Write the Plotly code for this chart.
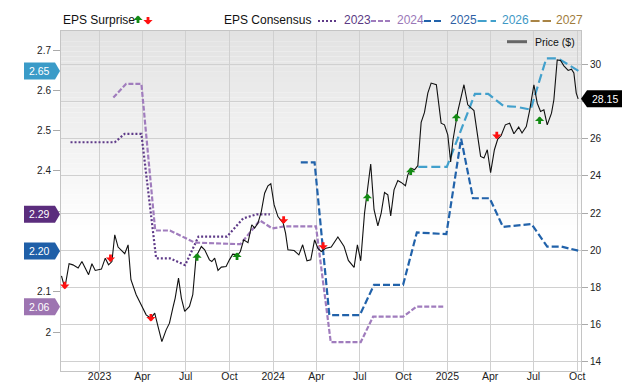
import plotly.graph_objects as go

# ---------------- data ----------------
eps2023_dates = ["2022-11-01", "2023-02-02", "2023-02-23", "2023-03-30", "2023-04-30", "2023-05-29",
                 "2023-06-30", "2023-07-28", "2023-09-26", "2023-10-30", "2023-11-27", "2023-12-25"]
eps2023_vals = [2.471, 2.471, 2.492, 2.492, 2.183, 2.183, 2.166, 2.237, 2.237, 2.282, 2.292, 2.292]

eps2024_dates = ["2023-01-30", "2023-02-26", "2023-03-30", "2023-04-28", "2023-05-29", "2023-07-20",
                 "2023-10-24", "2023-12-04", "2023-12-30", "2024-01-24", "2024-03-31", "2024-05-01",
                 "2024-07-03", "2024-07-29", "2024-09-30", "2024-10-28", "2024-12-26"]
eps2024_vals = [2.582, 2.616, 2.616, 2.252, 2.252, 2.222, 2.218, 2.277, 2.257, 2.262, 2.262, 1.975,
                1.975, 2.038, 2.038, 2.063, 2.063]

eps2025_dates = ["2024-02-28", "2024-03-28", "2024-04-28", "2024-07-01", "2024-07-31", "2024-09-30",
                 "2024-10-29", "2024-12-30", "2025-01-30", "2025-02-24", "2025-03-31", "2025-04-28",
                 "2025-06-27", "2025-07-30", "2025-08-29", "2025-10-06"]
eps2025_vals = [2.421, 2.421, 2.042, 2.042, 2.117, 2.117, 2.247, 2.243, 2.480, 2.332, 2.332, 2.261,
                2.268, 2.212, 2.212, 2.201]

eps2026_dates = ["2024-11-01", "2024-12-31", "2025-02-28", "2025-03-28", "2025-04-29", "2025-05-27",
                 "2025-06-25", "2025-07-28", "2025-08-22", "2025-10-04"]
eps2026_vals = [2.410, 2.410, 2.591, 2.591, 2.561, 2.559, 2.552, 2.679, 2.679, 2.648]

eps2027_dates = []
eps2027_vals = []

price_dates = [
    "2022-10-13", "2022-10-20", "2022-10-29", "2022-11-06", "2022-11-17", "2022-11-25", "2022-12-09",
    "2022-12-16", "2022-12-23", "2023-01-05", "2023-01-13", "2023-01-20", "2023-01-27", "2023-02-02",
    "2023-02-09", "2023-02-23", "2023-03-02", "2023-03-08", "2023-03-19", "2023-03-29", "2023-04-09",
    "2023-04-19", "2023-04-27", "2023-05-04", "2023-05-12", "2023-05-21", "2023-05-28", "2023-06-04",
    "2023-06-09", "2023-06-16", "2023-06-22", "2023-06-29", "2023-07-09", "2023-07-16", "2023-07-19",
    "2023-07-23", "2023-08-03", "2023-08-10", "2023-08-20", "2023-08-25", "2023-08-31", "2023-09-07",
    "2023-09-14", "2023-09-24", "2023-10-01", "2023-10-08", "2023-10-19", "2023-10-24", "2023-10-31",
    "2023-11-09", "2023-11-17", "2023-11-23", "2023-11-30", "2023-12-07", "2023-12-14", "2023-12-21",
    "2023-12-27", "2024-01-03", "2024-01-11", "2024-01-22", "2024-01-27", "2024-02-01", "2024-02-14",
    "2024-02-24", "2024-03-03", "2024-03-12", "2024-03-20", "2024-03-28", "2024-04-04", "2024-04-11",
    "2024-04-21", "2024-05-02", "2024-05-16", "2024-05-29", "2024-06-07", "2024-06-19", "2024-06-26",
    "2024-07-03", "2024-07-11", "2024-07-24", "2024-07-31", "2024-08-08", "2024-08-15", "2024-08-22",
    "2024-08-29", "2024-09-04", "2024-09-11", "2024-09-19", "2024-09-26", "2024-10-05", "2024-10-10",
    "2024-10-17", "2024-10-24", "2024-10-31", "2024-11-07", "2024-11-14", "2024-11-21", "2024-11-28",
    "2024-12-09", "2024-12-19", "2024-12-26", "2025-01-02", "2025-01-08", "2025-01-13", "2025-01-23",
    "2025-02-05", "2025-02-13", "2025-02-26", "2025-03-12", "2025-03-19", "2025-03-26", "2025-04-02",
    "2025-04-10", "2025-04-17", "2025-04-24", "2025-05-03", "2025-05-12", "2025-05-21", "2025-05-31",
    "2025-06-07", "2025-06-16", "2025-06-23", "2025-07-02", "2025-07-09", "2025-07-16", "2025-07-23",
    "2025-07-30", "2025-08-08", "2025-08-13", "2025-08-20", "2025-08-27", "2025-09-03", "2025-09-12",
    "2025-09-19", "2025-09-24", "2025-09-29", "2025-10-03"]
price_vals = [
    18.62, 17.96, 19.27, 19.21, 19.04, 19.39, 18.68,
    19.27, 18.91, 18.98, 19.57, 19.21, 19.39, 20.83,
    20.17, 19.81, 20.29, 18.41, 17.60, 17.06, 16.52,
    16.34, 16.61, 15.89, 15.08, 15.71, 16.07, 16.88,
    17.42, 18.50, 17.42, 16.70, 16.97, 17.60, 18.58,
    19.66, 20.20, 20.02, 19.48, 19.39, 19.57, 18.91,
    19.09, 19.12, 19.48, 19.79, 19.75, 19.93, 20.56,
    20.41, 21.37, 21.19, 21.46, 22.08, 23.07, 23.47,
    23.58, 22.44, 21.81, 21.46, 20.92, 20.02, 19.98,
    19.75, 20.29, 19.43, 19.48, 20.56, 20.10, 19.93,
    20.11, 20.17, 20.71, 20.20, 19.45, 19.07, 20.29,
    19.43, 22.00, 24.64, 22.18, 21.31, 22.00, 23.11,
    22.98, 21.85, 23.25, 23.75, 23.65, 23.47, 24.06,
    24.42, 24.33, 24.55, 26.88, 27.42, 28.46, 29.00,
    28.91, 26.84, 26.75, 26.21, 24.75, 25.95, 27.47,
    28.91, 27.83, 27.52, 25.05, 24.96, 25.41, 24.18,
    25.41, 25.98, 26.16, 26.75, 26.84, 26.27, 26.63,
    26.31, 26.66, 27.52, 28.91, 27.92, 27.47, 27.56,
    26.75, 27.38, 28.10, 30.25, 30.22, 29.93, 29.68,
    29.75, 29.54, 28.46, 28.15]

beat_dates = ["2023-07-25", "2023-10-17", "2024-07-17", "2024-10-16", "2025-01-20", "2025-07-14"]
beat_prices = [19.84, 19.88, 23.04, 24.45, 27.35, 27.20]
miss_dates = ["2022-10-20", "2023-01-24", "2023-04-19", "2024-01-23", "2024-04-15", "2025-04-15"]
miss_prices = [17.90, 19.36, 16.16, 21.42, 20.02, 25.98]

x_tick_dates = ["2023-01-01", "2023-04-01", "2023-07-01", "2023-10-01", "2024-01-01", "2024-04-01",
                "2024-07-01", "2024-10-01", "2025-01-01", "2025-04-01", "2025-07-01", "2025-10-01"]
x_tick_text = ["2023", "Apr", "Jul", "Oct", "2024", "Apr", "Jul", "Oct", "2025", "Apr", "Jul", "Oct"]
left_tick_vals = [2.0, 2.1, 2.2, 2.3, 2.4, 2.5, 2.6, 2.7]
left_tick_text = ["2", "2.1", "", "", "2.4", "2.5", "2.6", "2.7"]
right_tick_vals = [14, 16, 18, 20, 22, 24, 26, 28, 30]
right_tick_text = ["14", "16", "18", "20", "22", "24", "26", "", "30"]

# ---------------- style ----------------
W, H = 640, 382
ML, MR, MT, MB = 61, 59, 31, 11
PW, PH = W - ML - MR, H - MT - MB
FONT = "Liberation Sans, Arial, sans-serif"

C2023, C2024, C2025, C2026, C2027 = "#5e3a88", "#a07cbd", "#2162aa", "#42a0cc", "#a98445"
T2023, T2024, T2025, T2026, T2027 = "#5b3a84", "#9b78b8", "#2f5fa5", "#3e98c5", "#a07c3c"
B2023, B2024, B2025, B2026 = "#5b2d7d", "#9d74b1", "#1f5fa8", "#3a9bc8"
GREEN, RED = "#128a12", "#ff1010"
GRID = "#d0d0d0"


def pxx(x):
    return (x - ML) / PW


def pyy(y):
    return (H - MB - y) / PH


fig = go.Figure()

series = [
    (eps2023_dates, eps2023_vals, C2023, "2px,2px", 2.2, "2023"),
    (eps2024_dates, eps2024_vals, C2024, "5px,2px", 2.2, "2024"),
    (eps2025_dates, eps2025_vals, C2025, "7px,3px", 2.2, "2025"),
    (eps2026_dates, eps2026_vals, C2026, "9px,4px", 2.2, "2026"),
    (eps2027_dates, eps2027_vals, C2027, "9px,3px", 2.2, "2027"),
]
for d, v, c, dash, w, name in series:
    fig.add_trace(go.Scatter(x=d, y=v, mode="lines", name=name, yaxis="y",
                             line=dict(color=c, width=w, dash=dash), showlegend=False))

fig.add_trace(go.Scatter(x=price_dates, y=price_vals, mode="lines", name="Price ($)", yaxis="y2",
                         line=dict(color="#111111", width=1.1), showlegend=False))

shapes = []
# background gradient (top grey fading to white)
N = 40
top_c, bottom_frac = 0xE2, 0.40
for i in range(N):
    f0 = 1 - (1 - bottom_frac) * i / N
    f1 = 1 - (1 - bottom_frac) * (i + 1) / N
    g = int(round(top_c + (255 - top_c) * (i + 0.5) / N))
    col = "#%02x%02x%02x" % (g, g, g)
    shapes.append(dict(type="rect", xref="paper", yref="paper", x0=0, x1=1, y0=f1, y1=f0,
                       fillcolor=col, line=dict(width=0), layer="below"))

annotations = []
AS, AW = 0.55, 2.8
# surprise arrows
for d, v in zip(beat_dates, beat_prices):
    annotations.append(dict(x=d, y=v, xref="x", yref="y2", text="", showarrow=True, arrowhead=1,
                            arrowsize=AS, arrowwidth=AW, arrowcolor=GREEN, ax=0, ay=9))
for d, v in zip(miss_dates, miss_prices):
    annotations.append(dict(x=d, y=v, xref="x", yref="y2", text="", showarrow=True, arrowhead=1,
                            arrowsize=AS, arrowwidth=AW, arrowcolor=RED, ax=0, ay=-9))

# last-value boxes on left axis
for vals, col in [(eps2026_vals, B2026), (eps2023_vals, B2023), (eps2025_vals, B2025), (eps2024_vals, B2024)]:
    last = vals[-1]
    shapes.append(dict(type="path", xref="paper", yref="y", xsizemode="pixel", ysizemode="pixel",
                       xanchor=0, yanchor=last,
                       path="M-1,0 L-6,8.5 L-37,8.5 L-37,-8.5 L-6,-8.5 Z",
                       fillcolor=col, line=dict(width=0), layer="above"))
    annotations.append(dict(x=0, y=last, xref="paper", yref="y", xshift=-21.5, text="%.2f" % last,
                            showarrow=False, font=dict(family=FONT, size=10.5, color="white"),
                            xanchor="center", yanchor="middle"))

# last price box on right axis
lastp = price_vals[-1]
shapes.append(dict(type="path", xref="paper", yref="y2", xsizemode="pixel", ysizemode="pixel",
                   xanchor=1, yanchor=lastp,
                   path="M0,0 L6,8.5 L41,8.5 L41,-8.5 L6,-8.5 Z",
                   fillcolor="#000000", line=dict(width=0), layer="above"))
annotations.append(dict(x=1, y=lastp, xref="paper", yref="y2", xshift=24, text="%.2f" % lastp,
                        showarrow=False, font=dict(family=FONT, size=10.5, color="white"),
                        xanchor="center", yanchor="middle"))

# header legend
LY = 20
annotations.append(dict(x=pxx(60.5), y=pyy(LY), xref="paper", yref="paper", text="EPS Surprise",
                        showarrow=False, xanchor="left", yanchor="middle",
                        font=dict(family=FONT, size=12, color="#111111")))
annotations.append(dict(x=pxx(138), y=pyy(15.5), xref="paper", yref="paper", text="", showarrow=True,
                        arrowhead=1, arrowsize=AS, arrowwidth=AW, arrowcolor=GREEN, ax=0, ay=9))
annotations.append(dict(x=pxx(148), y=pyy(24.5), xref="paper", yref="paper", text="", showarrow=True,
                        arrowhead=1, arrowsize=AS, arrowwidth=AW, arrowcolor=RED, ax=0, ay=-9))
annotations.append(dict(x=pxx(221.6), y=pyy(LY), xref="paper", yref="paper", text="EPS Consensus",
                        showarrow=False, xanchor="left", yanchor="middle",
                        font=dict(family=FONT, size=12, color="#111111")))
legend_items = [
    (318, 337, 342, C2023, T2023, "2px,2px", "2023"),
    (371, 392, 395, C2024, T2024, "5px,2px", "2024"),
    (424, 444, 448, C2025, T2025, "7px,3px", "2025"),
    (477.6, 496, 500, C2026, T2026, "9px,4px", "2026"),
    (530.6, 551, 554, C2027, T2027, "9px,3px", "2027"),
]
for x0, x1, xt, lc, tc, dash, name in legend_items:
    shapes.append(dict(type="line", xref="paper", yref="paper", x0=pxx(x0), x1=pxx(x1),
                       y0=pyy(LY + 1), y1=pyy(LY + 1), line=dict(color=lc, width=2.2, dash=dash)))
    annotations.append(dict(x=pxx(xt), y=pyy(LY), xref="paper", yref="paper", text=name,
                            showarrow=False, xanchor="left", yanchor="middle",
                            font=dict(family=FONT, size=12, color=tc)))

# price legend inside plot
shapes.append(dict(type="line", xref="paper", yref="paper", x0=pxx(507), x1=pxx(527),
                   y0=pyy(41.7), y1=pyy(41.7), line=dict(color="#666666", width=3)))
annotations.append(dict(x=pxx(532.5), y=pyy(41.7), xref="paper", yref="paper", text="Price ($)",
                        showarrow=False, xanchor="left", yanchor="middle",
                        font=dict(family=FONT, size=10.5, color="#111111")))

fig.update_layout(
    width=W, height=H,
    margin=dict(l=ML, r=MR, t=MT, b=MB, pad=0, autoexpand=False),
    paper_bgcolor="white", plot_bgcolor="white",
    font=dict(family=FONT, size=10, color="#222222"),
    showlegend=False,
    shapes=shapes, annotations=annotations,
    xaxis=dict(type="date", range=["2022-10-12", "2025-10-09"], automargin=False,
               tickmode="array", tickvals=x_tick_dates, ticktext=x_tick_text,
               showgrid=True, gridcolor=GRID, gridwidth=1, ticks="",
               showline=True, linecolor="#c4c4c4", linewidth=1, mirror=True,
               tickfont=dict(family=FONT, size=10.5, color="#222222"), zeroline=False,
               ticklabelstandoff=-5),
    yaxis=dict(range=[1.9032, 2.7472], tickmode="array", tickvals=left_tick_vals, automargin=False,
               ticktext=left_tick_text, showgrid=False, zeroline=False,
               ticks="outside", ticklen=7, tickcolor="#aaaaaa",
               showline=True, linecolor="#c4c4c4", linewidth=1, mirror=True,
               tickfont=dict(family=FONT, size=10, color="#222222")),
    yaxis2=dict(range=[13.495, 31.804], overlaying="y", side="right", tickmode="array", automargin=False,
                tickvals=right_tick_vals, ticktext=right_tick_text, showgrid=True,
                gridcolor=GRID, gridwidth=1, zeroline=False,
                ticks="outside", ticklen=6, tickcolor="#aaaaaa",
                showline=False, tickfont=dict(family=FONT, size=10, color="#222222")),
)

fig.write_html("out.html", config={"displayModeBar": False},
               post_script="document.body.style.margin='0';document.body.style.overflow='hidden';")
